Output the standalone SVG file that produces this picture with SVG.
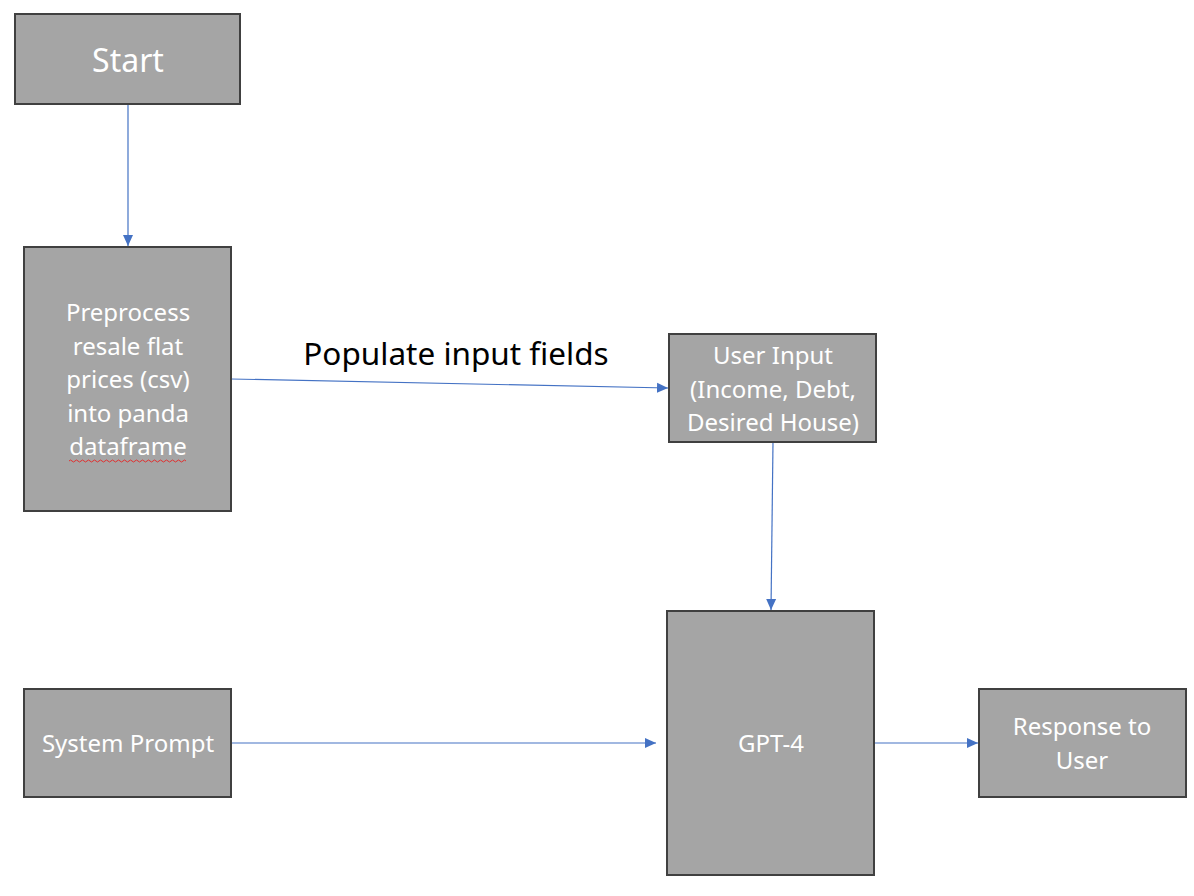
<svg xmlns="http://www.w3.org/2000/svg" width="1194" height="896" viewBox="0 0 1194 896">
<style>
.box{fill:#A5A5A5;stroke:#404040;stroke-width:2}
.t{font-family:"Noto Sans","Open Sans","Liberation Sans",sans-serif;font-size:24px;fill:#FFFFFF;text-anchor:middle}
.c{stroke:#4472C4;stroke-width:1.2;fill:none;marker-end:url(#ah)}
.lbl{font-family:"Noto Sans","Open Sans","Liberation Sans",sans-serif;font-size:31.5px;fill:#000000;text-anchor:middle}
</style>
<defs>
<marker id="ah" markerUnits="userSpaceOnUse" markerWidth="12" markerHeight="12" viewBox="0 0 12 12" refX="11" refY="6" orient="auto">
<path d="M0,1 L11,6 L0,11 Z" fill="#4472C4"/>
</marker>
</defs>
<rect width="1194" height="896" fill="#FFFFFF"/>
<g id="connectors">
<line class="c" x1="128" y1="104" x2="128" y2="246"/>
<line class="c" x1="231" y1="379" x2="668" y2="388"/>
<line class="c" x1="773" y1="442" x2="771" y2="610"/>
<line class="c" x1="231" y1="743" x2="656" y2="743"/>
<line class="c" x1="874" y1="743" x2="978" y2="743"/>
<text class="lbl" x="456" y="365">Populate input fields</text>
</g>
<g id="start">
<rect class="box" x="15" y="14" width="225" height="90"/>
<text class="t" x="128" y="72" style="font-size:32px">Start</text>
</g>
<g id="preprocess">
<rect class="box" x="24" y="247" width="207" height="264"/>
<text class="t" x="128" y="321">Preprocess</text>
<text class="t" x="128" y="355">resale flat</text>
<text class="t" x="128" y="388">prices (csv)</text>
<text class="t" x="128" y="422">into panda</text>
<text class="t" x="128" y="455">dataframe</text>
<path d="M69,461 q1.5,-2 3,0 t3,0 t3,0 t3,0 t3,0 t3,0 t3,0 t3,0 t3,0 t3,0 t3,0 t3,0 t3,0 t3,0 t3,0 t3,0 t3,0 t3,0 t3,0 t3,0 t3,0 t3,0 t3,0 t3,0 t3,0 t3,0 t3,0 t3,0 t3,0 t3,0 t3,0 t3,0 t3,0 t3,0 t3,0 t3,0 t3,0 t3,0 t3,0" fill="none" stroke="#E03030" stroke-width="1"/>
</g>
<g id="user-input">
<rect class="box" x="669" y="334" width="207" height="108"/>
<text class="t" x="773" y="364">User Input</text>
<text class="t" x="773" y="398">(Income, Debt,</text>
<text class="t" x="773" y="431">Desired House)</text>
</g>
<g id="gpt4">
<rect class="box" x="667" y="611" width="207" height="264"/>
<text class="t" x="771" y="752">GPT-4</text>
</g>
<g id="system-prompt">
<rect class="box" x="24" y="689" width="207" height="108"/>
<text class="t" x="128" y="752">System Prompt</text>
</g>
<g id="response">
<rect class="box" x="979" y="689" width="207" height="108"/>
<text class="t" x="1082" y="735">Response to</text>
<text class="t" x="1082" y="769">User</text>
</g>
</svg>
